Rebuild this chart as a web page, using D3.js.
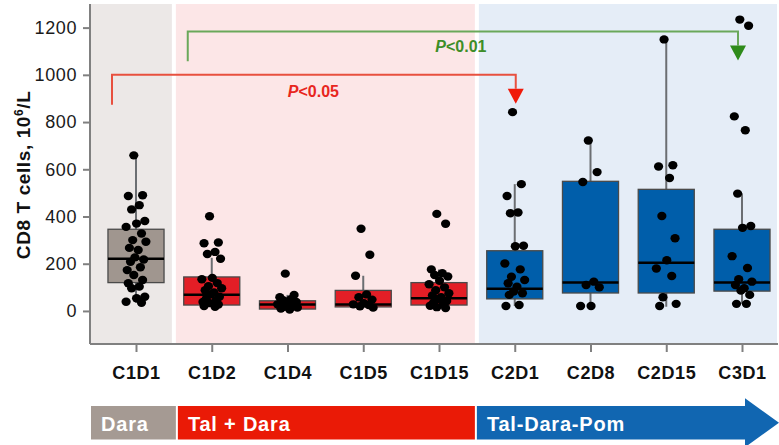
<!DOCTYPE html>
<html>
<head>
<meta charset="utf-8">
<script src="https://cdn.jsdelivr.net/npm/d3@7/dist/d3.min.js"></script>
<style>
  html, body { margin: 0; padding: 0; background: #fff; }
  svg { display: block; font-family: "Liberation Sans", Arial, sans-serif; }
</style>
</head>
<body>
<svg id="chart" width="779" height="445"></svg>
<script>
// Visits on the x axis
const categories = ["C1D1", "C1D2", "C1D4", "C1D5", "C1D15", "C2D1", "C2D8", "C2D15", "C3D1"];
// Treatment phase of each visit
const phaseOf = ["dara", "talDara", "talDara", "talDara", "talDara", "tdp", "tdp", "tdp", "tdp"];

// Box statistics per visit (CD8 T cells, 10^6/L)
const whiskerLow  = [35, 18, 5, 12, 12, 21, 21, 18, 30];
const q1          = [120, 25, 8, 17, 25, 51, 76, 76, 84];
const median      = [221, 69, 27, 27, 54, 94, 120, 204, 120];
const q3          = [346, 144, 43, 87, 120, 255, 549, 515, 346];
const whiskerHigh = [659, 225, 68, 149, 176, 537, 722, 1150, 497];

// Individual patient values per visit
const pointsC1D1  = [659, 490, 487, 448, 430, 381, 370, 356, 328, 300, 293, 267, 258, 227, 218, 208, 185, 173, 152, 131, 117, 103, 96, 60, 54, 39, 35];
const pointsC1D2  = [401, 290, 287, 250, 241, 221, 140, 134, 118, 105, 96, 88, 78, 70, 60, 52, 45, 38, 33, 27, 21, 18];
const pointsC1D4  = [158, 68, 58, 50, 45, 38, 32, 28, 22, 18, 14, 10, 6];
const pointsC1D5  = [348, 238, 149, 70, 58, 48, 33, 28, 25, 20, 14];
const pointsC1D15 = [411, 369, 176, 160, 152, 146, 128, 113, 100, 88, 75, 66, 58, 50, 42, 35, 28, 22, 16, 12];
const pointsC2D1  = [842, 537, 487, 417, 414, 276, 274, 201, 176, 145, 131, 117, 103, 82, 75, 68, 25, 21];
const pointsC2D8  = [722, 588, 546, 124, 110, 100, 21, 21];
const pointsC2D15 = [1150, 617, 612, 563, 402, 308, 215, 180, 148, 58, 30, 21];
const pointsC3D1  = [1234, 1208, 824, 765, 497, 360, 352, 232, 182, 134, 124, 110, 96, 86, 68, 30, 30];
const points = [pointsC1D1, pointsC1D2, pointsC1D4, pointsC1D5, pointsC1D15, pointsC2D1, pointsC2D8, pointsC2D15, pointsC3D1];

// Y axis ticks
const yTicks = [0, 200, 400, 600, 800, 1000, 1200];

// Treatment phases shown in the banner under the axis
const phaseKeys  = ["dara", "talDara", "tdp"];
const phaseNames = ["Dara", "Tal + Dara", "Tal-Dara-Pom"];

// Significance brackets: from visit, to visit, label
const bracketFrom  = ["C1D1", "C1D2"];
const bracketTo    = ["C2D1", "C3D1"];
const bracketLabel = ["<0.05", "<0.01"];
const bracketLevel = [1000, 1184];
const bracketFoot  = [873, 1058];

// Styling
const panelFill  = { dara: "#ece8e7", talDara: "#fce6e7", tdp: "#e5edf7" };
const boxFill    = { dara: "#a0968f", talDara: "#e31e26", tdp: "#005eaa" };
const bannerFill = { dara: "#a59a93", talDara: "#ea1a06", tdp: "#1166b1" };
const bracketLine  = ["#e8503f", "#6aa85a"];
const bracketHead  = ["#f01a0a", "#2e8b1a"];
const bracketText  = ["#e8261e", "#3e8e28"];

const svg = d3.select("#chart");
const plotLeft = 90, plotRight = 778, plotTop = 4, plotBottom = 344;

const x = d3.scalePoint().domain(categories).range([136, 742]);
const step = x.step();
const boxW = step * 0.74;
const y = d3.scaleLinear().domain([-140, 1300]).range([plotBottom, plotTop]);

// Phase background panels, split halfway between neighbouring visits
const phaseExtent = phaseKeys.map(k => {
  const idx = categories.map((c, i) => i).filter(i => phaseOf[i] === k);
  const first = idx[0], last = idx[idx.length - 1];
  const left = first === 0 ? plotLeft : (x(categories[first - 1]) + x(categories[first])) / 2 + 2;
  const right = last === categories.length - 1 ? plotRight - 1 : (x(categories[last]) + x(categories[last + 1])) / 2 - 2;
  return { key: k, left, right };
});

svg.append("g").selectAll("rect").data(phaseExtent).join("rect")
  .attr("x", d => d.left).attr("width", d => d.right - d.left)
  .attr("y", plotTop).attr("height", plotBottom - plotTop)
  .attr("fill", d => panelFill[d.key]);

// Boxes
const boxes = svg.append("g").selectAll("g").data(categories).join("g")
  .attr("transform", c => `translate(${x(c)},0)`);

boxes.append("line")
  .attr("y1", (c, i) => y(whiskerLow[i])).attr("y2", (c, i) => y(whiskerHigh[i]))
  .attr("stroke", "#6b6e72").attr("stroke-width", 2);

boxes.append("rect")
  .attr("x", -boxW / 2).attr("width", boxW)
  .attr("y", (c, i) => y(q3[i])).attr("height", (c, i) => y(q1[i]) - y(q3[i]))
  .attr("fill", (c, i) => boxFill[phaseOf[i]])
  .attr("stroke", "#4a4a4a").attr("stroke-width", 1.3);

boxes.append("line")
  .attr("x1", -boxW / 2).attr("x2", boxW / 2)
  .attr("y1", (c, i) => y(median[i])).attr("y2", (c, i) => y(median[i]))
  .attr("stroke", "#000").attr("stroke-width", 2.5);

// Patient points with a fixed horizontal spread
const spread = [-0.2, 0.6, -0.7, 0.3, -0.4, 0.8, 0.05, -0.9, 0.5, -0.3, 0.9, -0.6, 0.2, -0.1, 0.7, -0.5, 0.4, -0.8];
boxes.each(function (c, i) {
  d3.select(this).selectAll("ellipse").data(points[i]).join("ellipse")
    .attr("cx", (v, j) => spread[j % spread.length] * 11)
    .attr("cy", v => y(v))
    .attr("rx", 4.6).attr("ry", 4.2)
    .attr("fill", "#000");
});

// Axes
const yAxis = svg.append("g").attr("transform", `translate(${plotLeft},0)`)
  .call(d3.axisLeft(y).tickValues(yTicks).tickSize(7).tickPadding(6).tickFormat(d3.format("d")));
yAxis.select(".domain").attr("d", `M0,${plotTop}V${plotBottom}`);

const xAxis = svg.append("g").attr("transform", `translate(0,${plotBottom})`)
  .call(d3.axisBottom(x).tickSize(8).tickPadding(14));
xAxis.select(".domain").attr("d", `M${plotLeft},0H${plotRight}`);

[yAxis, xAxis].forEach(a => {
  a.selectAll(".domain, .tick line").attr("stroke", "#808080").attr("stroke-width", 2);
});
yAxis.selectAll("text").attr("font-size", 18).attr("fill", "#1a1a1a")
  .attr("letter-spacing", 0.6).attr("font-family", "Liberation Sans, Arial, sans-serif");
xAxis.selectAll("text").attr("font-size", 18).attr("font-weight", "bold").attr("fill", "#111")
  .attr("letter-spacing", 0.6).attr("font-family", "Liberation Sans, Arial, sans-serif");

// Y axis title
const yTitle = svg.append("text")
  .attr("transform", `translate(30,${(y(0) + y(1000)) / 2 - 18}) rotate(-90)`)
  .attr("text-anchor", "middle").attr("letter-spacing", 0.6)
  .attr("font-size", 19).attr("font-weight", "bold").attr("fill", "#111");
yTitle.append("tspan").text("CD8 T cells, 10");
yTitle.append("tspan").attr("dy", -7).attr("font-size", 12).text("6");
yTitle.append("tspan").attr("dy", 7).text("/L");

// Significance brackets
const headShift = [1, -4];
bracketFrom.forEach((from, k) => {
  const x0 = x(from) - 24;
  const x1 = x(bracketTo[k]) + headShift[k];
  const yTop = y(bracketLevel[k]);
  const headTop = yTop + 14;
  const headTip = headTop + 15;
  svg.append("path")
    .attr("d", `M${x0},${y(bracketFoot[k])}V${yTop}H${x1}V${headTop}`)
    .attr("fill", "none").attr("stroke", bracketLine[k]).attr("stroke-width", 2);
  svg.append("path")
    .attr("d", `M${x1 - 8},${headTop}L${x1 + 8},${headTop}L${x1},${headTip}Z`)
    .attr("fill", bracketHead[k]);
});

// P value labels
const labelPos = [
  { cx: (x("C1D4") + x("C1D5")) / 2 - 12, dy: 22 },
  { cx: (x("C1D15") + x("C2D1")) / 2 - 16, dy: 21 }
];
bracketLabel.forEach((lab, k) => {
  const t = svg.append("text")
    .attr("x", labelPos[k].cx).attr("y", y(bracketLevel[k]) + labelPos[k].dy)
    .attr("text-anchor", "middle")
    .attr("font-size", 16).attr("font-weight", "bold").attr("fill", bracketText[k]);
  t.append("tspan").attr("font-style", "italic").text("P");
  t.append("tspan").text(lab);
});

// Treatment phase banner
const bannerTop = 406, bannerBottom = 439.5;
const bannerExtent = [
  { key: "dara", left: 91, right: phaseExtent[0].right + 4 },
  { key: "talDara", left: phaseExtent[0].right + 6, right: phaseExtent[1].right },
  { key: "tdp", left: phaseExtent[1].right + 2, right: 745 }
];
const banner = svg.append("g");
bannerExtent.forEach((b, i) => {
  if (b.key === "tdp") {
    const mid = (bannerTop + bannerBottom) / 2;
    banner.append("path")
      .attr("d", `M${b.left},${bannerTop}H${b.right}V${mid - 24.5}L${plotRight + 1},${mid}L${b.right},${mid + 24.5}V${bannerBottom}H${b.left}Z`)
      .attr("fill", bannerFill[b.key]);
  } else {
    banner.append("rect")
      .attr("x", b.left).attr("width", b.right - b.left)
      .attr("y", bannerTop).attr("height", bannerBottom - bannerTop)
      .attr("fill", bannerFill[b.key]);
  }
  banner.append("text")
    .attr("x", b.left + 10).attr("y", bannerBottom - 8.5)
    .attr("font-size", 20).attr("font-weight", "bold").attr("fill", "#fff")
    .attr("letter-spacing", 0.8)
    .text(phaseNames[i]);
});
</script>
</body>
</html>
